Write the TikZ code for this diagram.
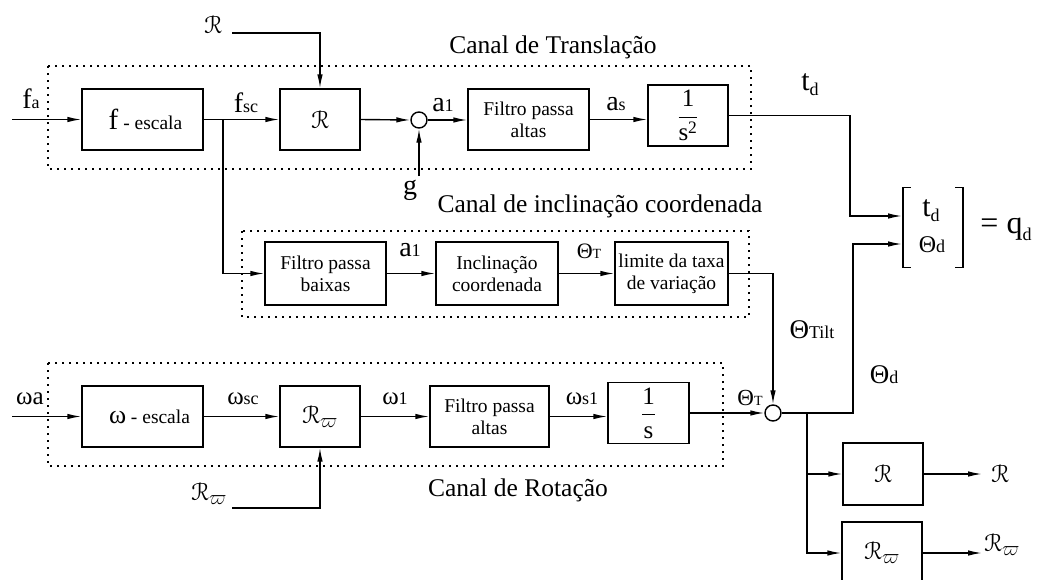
\RequirePackage{fix-cm}
\documentclass[tikz,border=0pt]{standalone}
\usepackage{amsmath}
\usepackage{eucal}
\usepackage{fontspec}
\setmainfont{Liberation Serif}
\usetikzlibrary{arrows.meta}
\newcommand\sbx[1]{{\fontsize{18}{18}\selectfont #1}}
\newcommand\sbt[1]{{\fontsize{14}{14}\selectfont #1}}
\newcommand\Rc{\ensuremath{\mathcal{R}}}
\newcommand\Rwv{\ensuremath{\mathcal{R}_{\varpi}}}
\begin{document}
\begin{tikzpicture}[x=1pt,y=-1pt,
  box/.style={draw, line width=1.4pt, inner sep=0pt, align=center, font=\fontsize{19.5}{22}\selectfont},
  sumc/.style={draw, circle, line width=1.4pt, minimum size=16pt, inner sep=0pt, fill=white},
  flow/.style={line width=1.4pt, -{Latex[length=14pt,width=5.5pt]}},
  wire/.style={line width=1.4pt},
  chan/.style={line width=1.5pt, dash pattern=on 1.6pt off 5.4pt},
  lab/.style={inner sep=0pt, font=\fontsize{28}{32}\selectfont},
  title/.style={inner sep=0pt, font=\fontsize{25.5}{30}\selectfont},
  bigR/.style={inner sep=0pt, font=\fontsize{24.88}{28}\selectfont}]
\useasboundingbox (0,0) rectangle (1041,579);

% channel frames
\draw[chan] (48,66) rectangle (751,169);
\draw[chan] (242,231) rectangle (749,317);
\draw[chan] (48,363) rectangle (723,466);

% titles
\node[title] (tT) at (553,47) {Canal de Translação};
\node[title] (tI) at (600,206) {Canal de inclinação coordenada};
\node[title] (tR) at (518,490) {Canal de Rotação};

% translation channel
\node[box, minimum width=121pt, minimum height=61pt] (fesc) at (142.5,119.5)
  {\hspace*{6pt}{\fontsize{29}{30}\selectfont f} - escala};
\node[box, minimum width=80pt, minimum height=61pt, font=\fontsize{24.88}{28}\selectfont] (Rb) at (320,119.5) {\Rc};
\node[sumc] (sum1) at (419,120) {};
\node[box, minimum width=121pt, minimum height=61pt] (fpa) at (528.5,119.5) {Filtro passa\\altas};
\node[box, minimum width=80pt, minimum height=61pt, font=\fontsize{25}{28}\selectfont] (s2) at (688,115.5)
  {$\dfrac{\text{1}}{\text{s}^{\text{2}}}$};

% tilt channel
\node[box, minimum width=121pt, minimum height=63pt] (fpb) at (325.5,273.5) {Filtro passa\\baixas};
\node[box, minimum width=122pt, minimum height=63pt] (incl) at (497,273.5) {Inclinação\\coordenada};
\node[box, minimum width=113pt, minimum height=63pt] (lim) at (671.5,273.5) {limite da taxa\\de variação};

% rotation channel
\node[box, minimum width=121pt, minimum height=61pt] (wesc) at (142.5,416.5)
  {\hspace*{14pt}{\fontsize{26}{28}\selectfont ω} - escala};
\node[box, minimum width=80pt, minimum height=61pt, font=\fontsize{24.88}{28}\selectfont] (Rw) at (320,416.5) {\Rwv};
\node[box, minimum width=119pt, minimum height=61pt] (fpa2) at (489.5,416.5) {Filtro passa\\altas};
\node[box, minimum width=81pt, minimum height=61pt, font=\fontsize{25}{28}\selectfont] (s1) at (648.5,413)
  {$\dfrac{\text{1}}{\text{s}}$};
\node[sumc] (sum2) at (773,413) {};

% outputs
\node[box, minimum width=80pt, minimum height=62pt, font=\fontsize{24.88}{28}\selectfont] (Rout) at (883,474) {\Rc};
\node[box, minimum width=80pt, minimum height=62pt, font=\fontsize{24.88}{28}\selectfont] (Rwout) at (882,553) {\Rwv};

% q vector
\node[inner sep=0pt, minimum width=60pt, minimum height=79pt] (qv) at (933,227.5) {};
\node[inner sep=0pt, font=\fontsize{30}{32}\selectfont] (qt) at (931,211) {t\raisebox{-5pt}{\sbx{d}}};
\node[inner sep=0pt, font=\fontsize{24}{26}\selectfont] (qo) at (932,245) {Θ\sbx{d}};
\draw[line width=1.2pt] ([xshift=8pt]qv.north west) -- (qv.north west) -- (qv.south west) -- ([xshift=8pt]qv.south west);
\draw[line width=1.2pt] ([xshift=-8pt]qv.north east) -- (qv.north east) -- (qv.south east) -- ([xshift=-8pt]qv.south east);
\draw[line width=2.4pt] (qv.north west) -- (qv.south west);
\draw[line width=2.4pt] (qv.north east) -- (qv.south east);
\node[inner sep=0pt, font=\fontsize{32}{34}\selectfont] (qeq) at (1006,229) {= q\raisebox{-7pt}{\sbx{d}}};

% free ends
\coordinate (fain) at (12,119.5);
\coordinate (win) at (12,416.5);
\coordinate (Rsrc) at (232,33);
\coordinate (Rwsrc) at (232,508);
\coordinate (gsrc) at (419,176);
\coordinate (br) at (223,119.5);
\coordinate (tdx) at (850,0);
\coordinate (thx) at (853,0);
\coordinate (bx) at (807,413);
\coordinate (qin1) at (902,216);
\coordinate (qin2) at (902,244);
\coordinate (Rend) at (982,474);
\coordinate (Rwend) at (982,553);

% connectors translation
\draw[flow] (fain) -- (fesc.west);
\draw[flow] (fesc.east) -- (Rb.west);
\draw[flow] (Rsrc) -| (Rb.north);
\draw[flow] (Rb.east) -- (sum1.west);
\draw[flow] (gsrc) -- (sum1.south);
\draw[flow] (sum1.east) -- (sum1.east -| fpa.west);
\draw[flow] (fpa.east) -- (fpa.east -| s2.west);
\draw[flow] (s2.east) -- (s2.east -| tdx) |- (qin1);

% tilt
\draw[flow] (br) |- (fpb.west);
\draw[flow] (fpb.east) -- (incl.west);
\draw[flow] (incl.east) -- (lim.west);
\draw[flow] (lim.east) -| (sum2.north);

% rotation
\draw[flow] (win) -- (wesc.west);
\draw[flow] (wesc.east) -- (Rw.west);
\draw[flow] (Rwsrc) -| (Rw.south);
\draw[flow] (Rw.east) -- (fpa2.west);
\draw[flow] (fpa2.east) -- (fpa2.east -| s1.west);
\draw[flow] (s1.east) -- (sum2.west);
\draw[flow] (sum2.east) -| (qin2 -| thx) -- (qin2);
\draw[flow] (bx) |- (Rwout.west);
\draw[flow] (bx |- Rout.west) -- (Rout.west);
\draw[flow] (Rout.east) -- (Rend);
\draw[flow] (Rwout.east) -- (Rwend);

% labels
\node[bigR] (lR) at (213,25) {\Rc};
\node[bigR] (lRw) at (209,494) {\Rwv};
\node[lab] (lfa) at (31,99) {f\sbx{a}};
\node[lab] (lfsc) at (246,103) {f\sbx{sc}};
\node[lab] (la1) at (443,105) {a\sbx{1}};
\node[lab] (las) at (616,104) {a\sbx{s}};
\node[lab, font=\fontsize{30}{32}\selectfont] (ltd) at (810,85) {t\raisebox{-5pt}{\sbx{d}}};
\node[lab] (lg) at (410,190) {g};
\node[lab] (la1b) at (410,250) {a\sbx{1}};
\node[lab, font=\fontsize{22}{24}\selectfont] (lthT) at (589,251) {Θ\sbt{T}};
\node[lab, font=\fontsize{27}{30}\selectfont] (lthTilt) at (812,330) {Θ\sbx{Tilt}};
\node[lab, font=\fontsize{27}{30}\selectfont] (lthd) at (884,375) {Θ\sbx{d}};
\node[lab, font=\fontsize{25}{28}\selectfont] (lwa) at (30,399) {ωa};
\node[lab, font=\fontsize{25}{28}\selectfont] (lwsc) at (243,399) {ω\sbx{sc}};
\node[lab, font=\fontsize{25}{28}\selectfont] (lw1) at (395,399) {ω\sbx{1}};
\node[lab, font=\fontsize{25}{28}\selectfont] (lws1) at (582,399) {ω\sbx{s1}};
\node[lab, font=\fontsize{23}{26}\selectfont] (lthT2) at (750,398) {Θ\sbt{T}};
\node[bigR] (lRo) at (1000,474) {\Rc};
\node[bigR] (lRwo) at (1002,545) {\Rwv};
\end{tikzpicture}
\end{document}
